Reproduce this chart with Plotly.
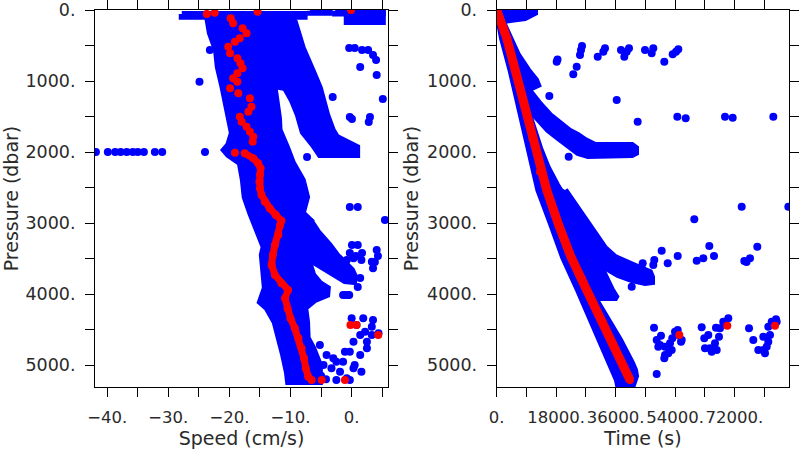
import plotly.graph_objects as go

# ---------------- LEFT PANEL: Speed (cm/s) vs Pressure (dbar) ----------------
# dense blue clouds (outlines)
L_MAIN_S = [-23.7,-23.2,-22.2,-21.9,-21.2,-20.7,-20.1,-19.6,-20.2,-20.9,
            -20.2,-18.3,-17.8,-17.5,-16.6,-15.8,-14.4,-14.7,-14.5,-14.2,
            -15.0,-13.9,-12.6,-11.8,-11.2,-10.6,-10.4,
            -5.2,-5.2,-6.3,-7.2,-7.3,-7.6,-6.0,-4.0,-3.9,-5.2,
            -6.3,-6.8,-7.6,-8.5,-8.0,-6.8,-8.0,-7.3,-8.0,-9.6,
            -10.6,-11.8,-11.9,-12.2,-12.6,-13.4,-13.7,-14.2,-15.0]
L_MAIN_P = [70,324,563,803,1056,1267,1507,1732,1901,1971,
            2042,2154,2394,2633,2858,3027,3337,3450,3689,3914,
            4111,4196,4393,4618,4858,5097,5238,
            5238,4998,4759,4618,4393,4196,4083,4013,3914,3844,
            3731,3590,3450,3238,3027,2957,2858,2633,2394,2154,
            1929,1690,1521,1267,1098,1056,704,282,70]
L_ARM_S = [-6.8,-5.5,-3.6,-2.4,-1.1,0.05,0.5,0.4,-1.1,-2.7,-4.4,-5.7,-6.8,-7.6,-8.2]
L_ARM_P = [2957,3126,3309,3450,3562,3661,3745,3830,3816,3731,3661,3590,3520,3379,3168]
L_RB_S = [-14.7,-14.2,-13.7,-10.9,-9.8,-8.8,-8.0,-6.3,-5.2,0.9,0.9,-2.4,-3.1,-4.0,-5.2,-6.3,-8.0,-9.3,-9.8]
L_RB_P = [113,563,1056,1098,1267,1478,1718,1901,2042,2042,1929,1788,1690,1478,1098,873,535,169,113]
L_TOP1_S = [-27.8,-7.7,-7.7,-27.8]
L_TOP1_P = [55,55,95,95]
L_TOP2_S = [-6.8,-3.6,-3.6,-6.8]
L_TOP2_P = [10,10,40,40]
L_TOP3_S = [-2.7,5.1,5.1,-2.7]
L_TOP3_P = [10,10,50,50]
L_TOP4_S = [-0.8,5.1,5.1,-0.8]
L_TOP4_P = [30,30,170,170]

# isolated blue points
L_PTS_S = [-41.85,-39.9,-38.7,-37.8,-36.8,-35.8,-35.0,-34.0,-32.2,-31.0,-24.0,
           -24.9,-22.7,-23.2,
           -3.1,5.1,-0.3,0.05,3.0,2.8,
           -0.4,0.5,1.7,2.7,3.5,4.0,1.4,4.1,
           -7.3,-0.3,1.0,5.45,
           0.05,1.0,4.1,4.3,3.8,
           -0.3,0.7,1.7,-0.8,
           0.3,1.6,3.3,3.5,
           1.4,1.0,-1.4,-0.4,-1.1,-0.6,
           0.0,1.9,0.8,1.4,0.3,-0.3,-1.4,-2.5,-1.9,-0.8,0.3,1.4,2.5,3.3,4.4,2.5,
           -4.1,-5.2,-3.0,-1.1,0.5,1.6,-4.6,-3.3,-0.3,-2.5,3.3,3.5,2.2,-4.2,-5.0]
L_PTS_P = [2000,2000,2000,2000,2000,2000,2000,2000,2000,2000,2000,
           1009,324,563,
           1225,1253,1507,1535,1507,1577,
           535,535,563,563,634,704,803,915,
           2070,2774,2774,2957,
           3309,3309,3379,3464,3548,
           3421,3464,3421,3520,
           3496,3520,3544,3637,
           3773,3900,4013,4013,4013,4013,
           4341,4341,4435,4576,4670,4811,4952,4952,5093,5186,5045,4858,4764,4576,4552,4670,
           4858,4717,4904,4811,4998,5093,4998,5045,5210,5210,4459,4365,4529,5200,5150]

# red series
L_RED_TOP_S = [-23.7,-22.4,-15.4,-0.1,-19.8,-19.4,-17.85,-17.2,-18.3,-19.1,-20.2,-19.9,-18.7,
               -18.2,-17.85,-18.7,-19.4,-18.7,-19.9,-18.55,-16.65,-16.4,-16.9,-18.3,-18.0,
               -17.2,-16.65,-16.1,-16.2,-19.1]
L_RED_TOP_P = [56,38,23,0,117,188,258,329,399,446,516,610,680,
               751,821,892,962,1009,1103,1173,1244,1361,1431,1502,1572,
               1643,1713,1783,1854,2009]
L_RED_S = [-17.5,-16.1,-15.3,-14.9,-15.0,-15.1,-15.0,-14.75,-14.2,-13.4,-12.4,-11.5,-11.7,
           -12.0,-12.55,-12.9,-13.1,-12.55,-11.5,-10.4,-10.9,-10.5,-10.0,-9.3,-8.7,-8.2,
           -7.8,-7.5,-7.1,-6.55]
L_RED_P = [2018,2088,2159,2229,2323,2417,2511,2605,2698,2792,2886,2966,3027,
           3168,3309,3450,3590,3731,3849,3943,4060,4201,4342,4482,4623,4764,
           4904,5045,5162,5209]
L_RED_OUT_S = [-4.9,-1.1,-0.2,0.8,4.35]
L_RED_OUT_P = [5209,5209,4435,4435,4576]

# ---------------- RIGHT PANEL: Time (s) vs Pressure (dbar) ----------------
R_MAIN_T = [0,1600,4330,6750,9170,11290,12600,16350,20080,24620,
            29160,33400,36430,36730,41270,42190,41880,40970,37340,34310,
            30670,29770,36430,34920,31280,26740,22800,20680,18260,15530,
            13110,10990,9170,7960,10080,12510,11900,9480,6450,3420,
            1600,700]
R_MAIN_P = [0,394,873,1338,1802,2281,2534,2999,3478,3942,
            4407,4886,5210,5280,5280,5153,5069,4970,4646,4407,
            4125,4055,4055,3942,3590,3168,2816,2647,2464,2225,
            1943,1661,1380,1155,1098,1056,986,845,634,352,
            141,28]
R_B_T = [6450,10080,13110,16140,19170,22200,24620,26740,29770,40970,42190,
         42190,40970,29770,27640,24620,21590,18560,15530,12510,9480,7060]
R_B_P = [929,1155,1324,1478,1605,1704,1760,1830,1901,1901,1943,
         2013,2042,2042,2056,2013,1915,1802,1690,1549,1380,1197]
R_C_T = [20680,23710,26740,29770,32790,35820,38850,43390,46420,47030,
         47030,44910,40970,36730,33100,30070,27040,24010,21290,19170]
R_C_P = [2534,2746,2957,3168,3351,3478,3548,3633,3689,3759,
         3830,3844,3802,3731,3633,3450,3252,3041,2816,2647]
R_TOP_T = [0,11600,11600,8570,4030,1000]
R_TOP_P = [0,0,42,113,141,169]

R_PTS_T = [18170,18410,24220,23190,25530,25220,25830,30580,32280,32790,37640,38640,39360,40060,
           44910,46930,47420,50750,53290,54290,54990,15930,36340,42690,54690,57230,69130,71460,
           83760,21800,
           74190,88300,59830,64380,65800,60560,62560,54810,51780,49960,47720,47420,44210,43910,
           40880,78910,76700,74970,75640,
           47630,49750,48450,49450,50960,51960,50750,52480,53170,53990,54810,55810,48450,
           48930,50960,52990,54990,56020,
           62070,62860,64070,63070,65100,66620,66100,67310,66400,68610,70130,64590,67620,69130,
           76400,77700,79210,81240,81760,80730,82240,83270,84570,80730,82240,82760,84780]
R_PTS_P = [728,697,798,905,563,634,507,658,587,539,563,658,587,539,
           563,610,539,728,624,587,553,1211,1267,1573,1502,1525,1502,1516,
           1502,2066,
           2770,2770,2947,3323,3464,3530,3496,3464,3567,3389,3520,3590,3567,3637,
           3896,3333,3496,3534,3548,
           4473,4586,4646,4717,4741,4834,4904,4693,4622,4529,4506,4670,5125,
           4741,4858,4787,4576,4646,
           4468,4623,4576,4763,4811,4787,4693,4600,4473,4389,4341,4763,4482,4412,
           4482,4646,4787,4834,4741,4600,4459,4389,4355,4787,4670,4576,4389]

R_RED_T = [0,3030,5750,8360,10780,13110,15140,18560,22500,27250,32190,37030,40360]
R_RED_P = [0,394,869,1338,1802,2277,2534,2999,3478,3942,4407,4886,5210]
R_RED_OUT_T = [55300,69830,84270]
R_RED_OUT_P = [4576,4445,4445]

# tick labels
L_XTICKS = [-40,-35,-30,-25,-20,-15,-10,-5,0,5]
L_XTEXT = ['\u221240.','','\u221230.','','\u221220.','','\u221210.','','0.','']
R_XTICKS = [0,9000,18000,27000,36000,45000,54000,63000,72000,81000]
R_XTEXT = ['0.','','18000.','','36000.','','54000.','','72000.','']
YTICKS = [0,500,1000,1500,2000,2500,3000,3500,4000,4500,5000]
YTEXT = ['0.','','1000.','','2000.','','3000.','','4000.','','5000.']

BLUE = '#0000ff'
RED = '#ff0000'

fig = go.Figure()

def poly(xs, ys, ax):
    fig.add_trace(go.Scatter(x=xs + xs[:1], y=ys + ys[:1], mode='lines', fill='toself',
                             fillcolor=BLUE, line=dict(color=BLUE, width=6),
                             xaxis=ax[0], yaxis=ax[1], hoverinfo='skip', showlegend=False))

def pts(xs, ys, ax, color, mode='markers', lw=8):
    fig.add_trace(go.Scatter(x=xs, y=ys, mode=mode, marker=dict(color=color, size=8),
                             line=dict(color=color, width=lw),
                             xaxis=ax[0], yaxis=ax[1], hoverinfo='skip', showlegend=False))

L = ('x', 'y')
R = ('x2', 'y2')
for xs, ys in [(L_MAIN_S, L_MAIN_P), (L_ARM_S, L_ARM_P), (L_RB_S, L_RB_P),
               (L_TOP1_S, L_TOP1_P), (L_TOP2_S, L_TOP2_P), (L_TOP3_S, L_TOP3_P), (L_TOP4_S, L_TOP4_P)]:
    poly(xs, ys, L)
pts(L_PTS_S, L_PTS_P, L, BLUE)
pts(L_RED_TOP_S, L_RED_TOP_P, L, RED)
pts(L_RED_S, L_RED_P, L, RED, 'lines+markers', 7)
pts(L_RED_OUT_S, L_RED_OUT_P, L, RED)

for xs, ys in [(R_MAIN_T, R_MAIN_P), (R_B_T, R_B_P), (R_C_T, R_C_P), (R_TOP_T, R_TOP_P)]:
    poly(xs, ys, R)
pts(R_PTS_T, R_PTS_P, R, BLUE)
pts(R_RED_T, R_RED_P, R, RED, 'lines+markers', 9)
pts(R_RED_OUT_T, R_RED_OUT_P, R, RED)

YTICKFONT = dict(family='DejaVu Sans', size=17.5, color='#2a2a2a')
XTICKFONT = dict(family='DejaVu Sans', size=16.5, color='#2a2a2a')
TITLEFONT = dict(family='DejaVu Sans', size=19, color='#2a2a2a')
common = dict(showline=True, linecolor='black', linewidth=1, mirror='ticks', ticks='outside',
              ticklen=9, tickwidth=1, tickcolor='black', showgrid=False, zeroline=False,
              tickmode='array', automargin=False, tickangle=0)
xcommon = dict(ticklabelstandoff=6, tickfont=XTICKFONT, **common)
ycommon = dict(ticklabelstandoff=6, tickfont=YTICKFONT, **common)

fig.update_layout(
    template='none',
    width=800, height=450,
    margin=dict(l=0, r=0, t=10, b=63, autoexpand=False),
    paper_bgcolor='white', plot_bgcolor='white',
    xaxis=dict(domain=[95/800, 388/800], range=[-42.0, 5.95], tickvals=L_XTICKS, ticktext=L_XTEXT,
               title=dict(text='Speed (cm/s)', font=TITLEFONT, standoff=3), anchor='y', **xcommon),
    yaxis=dict(domain=[0, 1], range=[5308, 0], tickvals=YTICKS, ticktext=YTEXT,
               title=dict(text='Pressure (dbar)', font=TITLEFONT, standoff=3), anchor='x', **ycommon),
    xaxis2=dict(domain=[496.7/800, 789.3/800], range=[0, 88600], tickvals=R_XTICKS, ticktext=R_XTEXT,
                title=dict(text='Time (s)', font=TITLEFONT, standoff=3), anchor='y2', **xcommon),
    yaxis2=dict(domain=[0, 1], range=[5308, 0], tickvals=YTICKS, ticktext=YTEXT,
                title=dict(text='Pressure (dbar)', font=TITLEFONT, standoff=3), anchor='x2', **ycommon),
)

fig.write_html('out.html', config={'displayModeBar': False},
               post_script="document.body.style.margin='0px';document.body.style.overflow='hidden';")
